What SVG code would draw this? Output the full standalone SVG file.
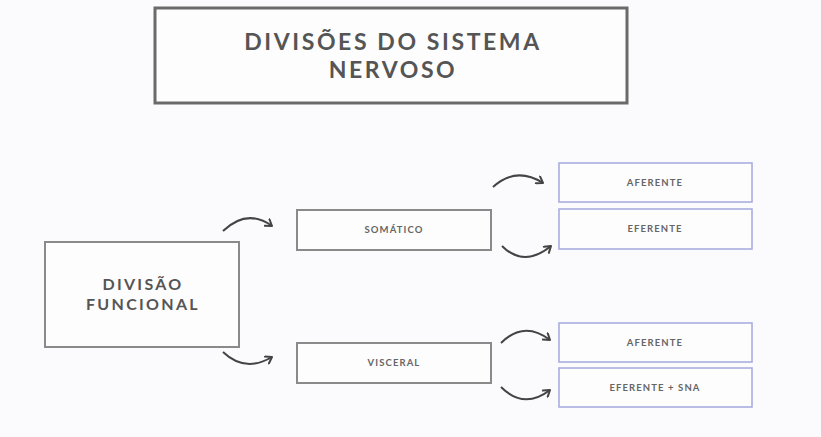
<svg xmlns="http://www.w3.org/2000/svg" width="821" height="437" viewBox="0 0 821 437">
<style>
.bg{fill:#fbfafc}
.box{fill:#fdfdfd;stroke:#8a8a8a;stroke-width:2}
.tbox{fill:#fdfdfd;stroke:#6a6a6a;stroke-width:3}
.bbox{fill:#fdfdfd;stroke:#a9aee0;stroke-width:1.6}
.t{font-family:Lato,"Open Sans","Liberation Sans",sans-serif;font-weight:700;fill:#555;text-anchor:middle}
.title{font-size:23px;letter-spacing:2.6px}
.mid{font-size:16px;letter-spacing:2.3px}
.sm{font-size:9.5px;letter-spacing:1.1px;fill:#666}
.arr{fill:none;stroke:#444;stroke-width:2;marker-end:url(#ah)}
</style>
<defs>
<marker id="ah" markerWidth="10" markerHeight="10" refX="7" refY="5" orient="auto" markerUnits="userSpaceOnUse">
<path d="M1,1 L7,5 L1,9" fill="none" stroke="#444" stroke-width="2" stroke-linecap="round" stroke-linejoin="round"/>
</marker>
</defs>
<rect class="bg" x="0" y="0" width="821" height="437"/>
<g id="title">
<rect class="tbox" x="155" y="8" width="472" height="95"/>
<text class="t title" x="393" y="50">DIVISÕES DO SISTEMA</text>
<text class="t title" x="393" y="78">NERVOSO</text>
</g>
<g id="divisao">
<rect class="box" x="45" y="242" width="194" height="105"/>
<text class="t mid" x="143" y="290">DIVISÃO</text>
<text class="t mid" x="143" y="310">FUNCIONAL</text>
</g>
<g id="somatico">
<rect class="box" x="297" y="210" width="194" height="40"/>
<text class="t sm" x="394" y="233">SOMÁTICO</text>
</g>
<g id="visceral">
<rect class="box" x="297" y="343" width="194" height="40"/>
<text class="t sm" x="394" y="366">VISCERAL</text>
</g>
<g id="aferente1">
<rect class="bbox" x="559" y="163" width="193" height="39"/>
<text class="t sm" x="655" y="186">AFERENTE</text>
</g>
<g id="eferente1">
<rect class="bbox" x="559" y="209" width="193" height="40"/>
<text class="t sm" x="655" y="232">EFERENTE</text>
</g>
<g id="aferente2">
<rect class="bbox" x="559" y="323" width="193" height="39"/>
<text class="t sm" x="655" y="346">AFERENTE</text>
</g>
<g id="eferente2">
<rect class="bbox" x="559" y="368" width="193" height="39"/>
<text class="t sm" x="655" y="391">EFERENTE + SNA</text>
</g>
<g id="connectors">
<path class="arr" d="M223,231 Q247,208 272,226"/>
<path class="arr" d="M223,352 Q245,373 272,357"/>
<path class="arr" d="M493,187 Q516,166 543,183"/>
<path class="arr" d="M502,246 Q524,268 551,246"/>
<path class="arr" d="M501,343 Q524,320 550,340"/>
<path class="arr" d="M501,387 Q524,410 550,390"/>
</g>
</svg>
